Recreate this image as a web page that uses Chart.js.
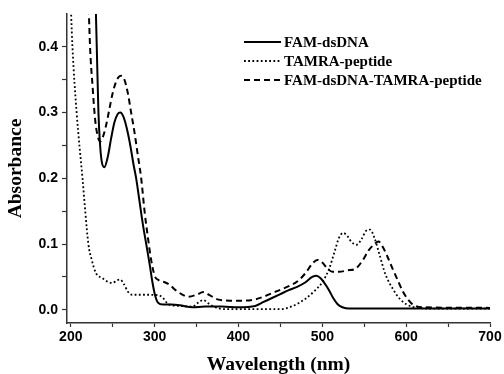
<!DOCTYPE html>
<html>
<head>
<meta charset="utf-8">
<script src="https://cdn.jsdelivr.net/npm/chart.js@4/dist/chart.umd.min.js"></script>
<style>
  html, body { margin: 0; padding: 0; background: #fff; }
  #wrap { width: 504px; height: 374px; position: relative; }
</style>
</head>
<body>
<div id="wrap"><canvas id="c1"></canvas></div>
<script>
  // FAM-dsDNA (solid)
  var famNm  = [228, 231, 233, 235, 237, 240, 244, 248, 252, 256, 259, 263, 267, 271, 275, 278, 282, 286, 290, 294, 297, 300, 304, 310, 320, 330, 345, 360, 380, 400, 420, 430, 440, 450, 460, 470, 480, 488, 493, 498, 503, 508, 513, 518, 524, 532, 560, 600, 650, 700]
  var famAbs = [0.55, 0.40, 0.30, 0.25, 0.225, 0.217, 0.232, 0.26, 0.285, 0.298, 0.300, 0.293, 0.275, 0.25, 0.22, 0.20, 0.165, 0.13, 0.10, 0.07, 0.045, 0.025, 0.011, 0.008, 0.008, 0.007, 0.004, 0.005, 0.005, 0.004, 0.006, 0.012, 0.018, 0.024, 0.030, 0.035, 0.042, 0.050, 0.052, 0.048, 0.040, 0.030, 0.018, 0.009, 0.004, 0.002, 0.002, 0.002, 0.002, 0.002]

  // TAMRA-peptide (dotted)
  var tamNm  = [199, 202, 207, 214, 221, 225, 230, 238, 245, 250, 255, 259, 263, 268, 273, 290, 305, 310, 315, 320, 330, 345, 352, 358, 364, 372, 385, 420, 450, 465, 480, 490, 500, 508, 515, 520, 525, 530, 535, 541, 547, 552, 557, 562, 568, 575, 585, 593, 601, 610, 630, 700]
  var tamAbs = [0.50, 0.40, 0.30, 0.20, 0.10, 0.076, 0.056, 0.048, 0.042, 0.041, 0.045, 0.046, 0.040, 0.028, 0.023, 0.023, 0.022, 0.018, 0.010, 0.007, 0.006, 0.005, 0.011, 0.015, 0.010, 0.004, 0.001, 0.001, 0.001, 0.006, 0.017, 0.028, 0.042, 0.062, 0.090, 0.110, 0.117, 0.112, 0.103, 0.099, 0.108, 0.120, 0.122, 0.110, 0.085, 0.055, 0.030, 0.016, 0.008, 0.004, 0.002, 0.002]

  // FAM-dsDNA-TAMRA-peptide (dashed)
  var mixNm  = [220, 223, 226, 229, 232, 235, 238, 242, 246, 250, 254, 257, 260, 264, 268, 272, 276, 280, 284, 288, 292, 296, 300, 305, 312, 318, 325, 332, 340, 350, 358, 366, 375, 390, 405, 420, 430, 445, 460, 470, 480, 488, 494, 500, 506, 512, 520, 530, 540, 548, 555, 562, 567, 572, 578, 584, 590, 596, 602, 608, 620, 700]
  var mixAbs = [0.52, 0.40, 0.34, 0.29, 0.265, 0.256, 0.262, 0.28, 0.305, 0.33, 0.347, 0.354, 0.356, 0.35, 0.33, 0.30, 0.27, 0.235, 0.20, 0.15, 0.11, 0.075, 0.052, 0.045, 0.042, 0.038, 0.030, 0.024, 0.020, 0.023, 0.027, 0.022, 0.016, 0.014, 0.014, 0.016, 0.020, 0.028, 0.036, 0.043, 0.056, 0.070, 0.076, 0.072, 0.063, 0.058, 0.058, 0.060, 0.063, 0.075, 0.090, 0.100, 0.104, 0.096, 0.080, 0.062, 0.045, 0.028, 0.016, 0.008, 0.004, 0.003]

  var seriesNames = ['FAM-dsDNA', 'TAMRA-peptide', 'FAM-dsDNA-TAMRA-peptide']
  var xTicks = [200, 250, 300, 350, 400, 450, 500, 550, 600, 650, 700]
  var yTicks = [0.0, 0.05, 0.1, 0.15, 0.2, 0.25, 0.3, 0.35, 0.4]

  function toPoints(xs, ys) {
    return xs.map(function(x, i) { return { x: x, y: ys[i] } })
  }

  var tickFont = { family: 'Liberation Sans', size: 14, weight: 'bold' }
  var titleFont = { family: 'Liberation Serif', size: 19.5, weight: 'bold' }

  // legend drawn inside the plot, like the original figure
  var legendPlugin = {
    id: 'innerLegend',
    afterDraw: function(chart) {
      var ctx = chart.ctx
      var rows = [42, 61, 80]
      ctx.save()
      chart.data.datasets.forEach(function(ds, i) {
        ctx.beginPath()
        ctx.strokeStyle = ds.borderColor
        ctx.lineWidth = ds.borderWidth
        ctx.setLineDash(ds.borderDash || [])
        ctx.moveTo(244, rows[i])
        ctx.lineTo(281, rows[i])
        ctx.stroke()
        ctx.setLineDash([])
        ctx.fillStyle = '#000'
        ctx.font = 'bold 15px "Liberation Serif"'
        ctx.textBaseline = 'middle'
        ctx.fillText(ds.label, 284, rows[i] + 1)
      })
      ctx.restore()
    }
  }

  var ctx = document.getElementById('c1')
  var chart1 = new Chart(ctx, {
    type: 'line',
    data: {
      datasets: [{
        label: seriesNames[0],
        data: toPoints(famNm, famAbs),
        borderColor: '#000',
        borderWidth: 2,
        pointRadius: 0,
        cubicInterpolationMode: 'monotone'
      }, {
        label: seriesNames[1],
        data: toPoints(tamNm, tamAbs),
        borderColor: '#000',
        borderWidth: 1.8,
        borderDash: [1.8, 2.4],
        pointRadius: 0,
        cubicInterpolationMode: 'monotone'
      }, {
        label: seriesNames[2],
        data: toPoints(mixNm, mixAbs),
        borderColor: '#000',
        borderWidth: 2,
        borderDash: [6, 4],
        pointRadius: 0,
        cubicInterpolationMode: 'monotone'
      }]
    },
    options: {
      responsive: true,
      maintainAspectRatio: false,
      animation: false,
      layout: { padding: { top: 14, right: 14, left: 0, bottom: 0 } },
      plugins: {
        legend: { display: false },
        tooltip: { enabled: false }
      },
      scales: {
        x: {
          type: 'linear',
          min: 195.5,
          max: 700,
          afterBuildTicks: function(scale) {
            scale.ticks = xTicks.map(function(v) { return { value: v } })
          },
          afterFit: function(scale) { scale.height = 51 },
          ticks: {
            color: '#000',
            font: tickFont,
            padding: 2,
            maxRotation: 0,
            callback: function(v) { return v % 100 === 0 ? v : '' }
          },
          grid: { drawOnChartArea: false, tickLength: 4, tickColor: '#333', tickWidth: 1.2 },
          border: { display: true, color: '#333', width: 1.5 },
          title: { display: true, text: 'Wavelength (nm)', color: '#000', font: titleFont, padding: { top: 6, bottom: -3 } }
        },
        y: {
          type: 'linear',
          min: -0.02,
          max: 0.45,
          afterBuildTicks: function(scale) {
            scale.ticks = yTicks.map(function(v) { return { value: v } })
          },
          afterFit: function(scale) { scale.width = 67 },
          ticks: {
            color: '#000',
            font: tickFont,
            padding: 4,
            callback: function(v) {
              var r = Math.round(v * 100)
              return r % 10 === 0 ? (r / 100).toFixed(1) : ''
            }
          },
          grid: { drawOnChartArea: false, tickLength: 5, tickColor: '#333', tickWidth: 1.2 },
          border: { display: true, color: '#333', width: 1.5 },
          title: { display: true, text: 'Absorbance', color: '#000', font: titleFont, padding: { bottom: 2 } }
        }
      }
    },
    plugins: [legendPlugin]
  })
</script>
</body>
</html>
